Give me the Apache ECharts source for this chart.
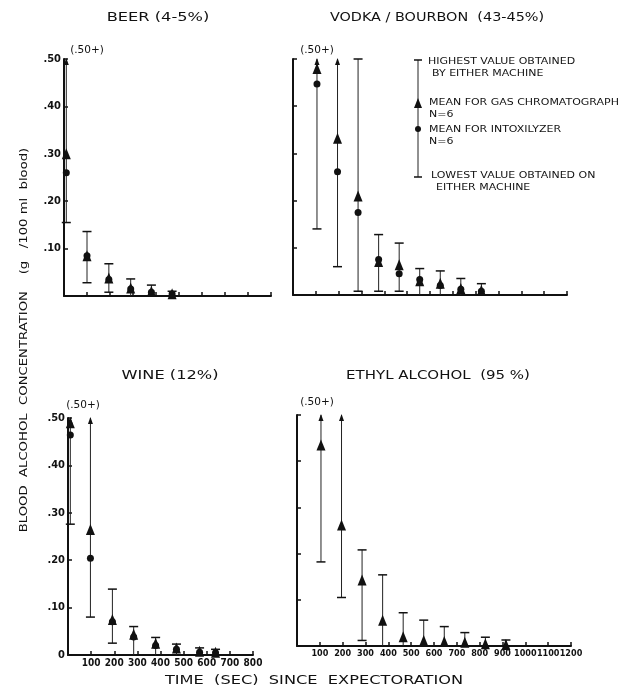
<!DOCTYPE html>
<html>
<head>
<meta charset="utf-8">
<script src="https://cdn.jsdelivr.net/npm/echarts@6/dist/echarts.min.js"></script>
<style>html,body{margin:0;padding:0;background:#fff}#c{width:624px;height:689px}</style>
</head>
<body>
<div id="c"></div>
<script>
// ---------- DATA ----------
const panelTitles = ['BEER (4-5%)', 'VODKA / BOURBON  (43-45%)', 'WINE (12%)', 'ETHYL ALCOHOL  (95 %)'];

const beerTime  = [10, 100, 195, 290, 380, 470];
const beerGC    = [0.30, 0.085, 0.038, 0.017, 0.010, 0.005];
const beerIntox = [0.26, 0.085, 0.035, 0.015, 0.008, 0.004];
const beerHigh  = [0.50, 0.136, 0.068, 0.036, 0.023, 0.010];
const beerLow   = [0.155, 0.028, 0.008, 0, 0, 0];
const beerPlus  = [1, 0, 0, 0, 0, 0];

const vodkaTime  = [105, 195, 285, 375, 465, 555, 645, 735, 825];
const vodkaGC    = [0.48, 0.332, 0.21, 0.071, 0.064, 0.030, 0.025, 0.014, 0.010];
const vodkaIntox = [0.447, 0.261, 0.175, 0.075, 0.045, 0.033, 0.020, 0.012, 0.008];
const vodkaHigh  = [0.50, 0.50, 0.50, 0.128, 0.110, 0.056, 0.051, 0.035, 0.024];
const vodkaLow   = [0.14, 0.06, 0.008, 0.008, 0.008, 0, 0, 0, 0];
const vodkaPlus  = [1, 1, 0, 0, 0, 0, 0, 0, 0];

const wineTime  = [10, 97, 192, 284, 379, 469, 569, 638];
const wineGC    = [0.49, 0.265, 0.075, 0.044, 0.025, 0.015, 0.008, 0.006];
const wineIntox = [0.464, 0.204, 0.070, 0.038, 0.020, 0.012, 0.006, 0.005];
const wineHigh  = [0.50, 0.50, 0.139, 0.060, 0.037, 0.023, 0.015, 0.012];
const wineLow   = [0.276, 0.08, 0.025, 0, 0, 0, 0, 0];
const winePlus  = [1, 1, 0, 0, 0, 0, 0, 0];

const ethylTime = [105, 195, 285, 375, 465, 555, 645, 735, 825, 915];
const ethylGC   = [0.435, 0.262, 0.143, 0.056, 0.020, 0.012, 0.010, 0.008, 0.005, 0.003];
const ethylHigh = [0.50, 0.50, 0.208, 0.154, 0.072, 0.056, 0.042, 0.029, 0.019, 0.013];
const ethylLow  = [0.182, 0.105, 0.012, 0, 0, 0, 0, 0, 0, 0];
const ethylPlus = [1, 1, 0, 0, 0, 0, 0, 0, 0, 0];

const yTicks = [0, 0.1, 0.2, 0.3, 0.4, 0.5];
const xMax = [900, 1200, 800, 1200];

// ---------- CHART ----------
const FONT = '"DejaVu Sans", "Liberation Sans", sans-serif';
const NARROW = '"Liberation Sans Narrow", "DejaVu Sans Condensed", "Liberation Sans", sans-serif';
const INK = '#111';

const grids = [
  {left: 64, top: 59, width: 207, height: 237},
  {left: 293, top: 59, width: 274, height: 236},
  {left: 68, top: 418, width: 185, height: 237},
  {left: 297, top: 415, width: 274, height: 231}
];

function yFmt(showZero) {
  return function (v) {
    const r = Math.round(v * 100);
    if (r === 0) return showZero ? '0' : '';
    return '.' + String(r).padStart(2, '0');
  };
}

const xAxes = grids.map((g, i) => ({
  gridIndex: i, type: 'value', min: 0, max: xMax[i], interval: 100,
  axisLine: {lineStyle: {color: INK, width: 2}},
  axisTick: {show: true, inside: true, length: 4, lineStyle: {color: INK, width: 1.5}},
  axisLabel: {show: i >= 2, color: INK, fontFamily: NARROW, fontWeight: 'bold', fontSize: i === 3 ? 9 : 10, margin: 3,
    interval: 0, hideOverlap: false, showMaxLabel: true,
    formatter: v => v === 0 ? '' : String(v)},
  splitLine: {show: false}
}));

const yAxes = grids.map((g, i) => ({
  gridIndex: i, type: 'value', min: 0, max: 0.5, interval: 0.1,
  axisLine: {show: true, lineStyle: {color: INK, width: 2}},
  axisTick: {show: true, inside: true, length: 4, lineStyle: {color: INK, width: 1.5}},
  axisLabel: {show: i === 0 || i === 2, color: INK, fontFamily: NARROW, fontWeight: 'bold', fontSize: 11, margin: 3,
    formatter: yFmt(i === 2)},
  splitLine: {show: false}
}));

function errRender(params, api) {
  const x = api.value(0), lo = api.value(1), hi = api.value(2), plus = api.value(3);
  const pHi = api.coord([x, hi]);
  const pLo = api.coord([x, lo]);
  const w = 4.5;
  const ch = [{type: 'line', shape: {x1: pHi[0], y1: pHi[1], x2: pLo[0], y2: pLo[1]},
    style: {stroke: '#222', lineWidth: 1}}];
  if (plus) {
    ch.push({type: 'polygon', shape: {points: [[pHi[0], pHi[1] - 1], [pHi[0] - 2.5, pHi[1] + 6], [pHi[0] + 2.5, pHi[1] + 6]]},
      style: {fill: INK}});
  } else {
    ch.push({type: 'line', shape: {x1: pHi[0] - w, y1: pHi[1], x2: pHi[0] + w, y2: pHi[1]},
      style: {stroke: INK, lineWidth: 1.5}});
  }
  if (lo > 0.001) {
    ch.push({type: 'line', shape: {x1: pLo[0] - w, y1: pLo[1], x2: pLo[0] + w, y2: pLo[1]},
      style: {stroke: INK, lineWidth: 1.5}});
  }
  return {type: 'group', children: ch};
}

function zip(...arrs) { return arrs[0].map((_, k) => arrs.map(a => a[k])); }

const panels = [
  {t: beerTime, gc: beerGC, ix: beerIntox, hi: beerHigh, lo: beerLow, plus: beerPlus},
  {t: vodkaTime, gc: vodkaGC, ix: vodkaIntox, hi: vodkaHigh, lo: vodkaLow, plus: vodkaPlus},
  {t: wineTime, gc: wineGC, ix: wineIntox, hi: wineHigh, lo: wineLow, plus: winePlus},
  {t: ethylTime, gc: ethylGC, ix: null, hi: ethylHigh, lo: ethylLow, plus: ethylPlus}
];

const series = [];
panels.forEach((p, i) => {
  series.push({type: 'custom', xAxisIndex: i, yAxisIndex: i, renderItem: errRender,
    data: zip(p.t, p.lo, p.hi, p.plus), z: 2, clip: false, silent: true});
  if (p.ix) {
    series.push({type: 'scatter', xAxisIndex: i, yAxisIndex: i, symbol: 'circle', symbolSize: 7,
      itemStyle: {color: INK, opacity: 1}, data: zip(p.t, p.ix), z: 3, silent: true});
  }
  series.push({type: 'scatter', xAxisIndex: i, yAxisIndex: i, symbol: 'triangle', symbolSize: [9, 11],
    itemStyle: {color: INK, opacity: 1}, data: zip(p.t, p.gc), z: 4, silent: true});
});

function txt(x, y, s, size, sx, align) {
  return {type: 'text', x: x, y: y, scaleX: sx || 1,
    style: {text: s, fill: INK, font: 'normal ' + size + 'px ' + FONT,
      textAlign: align || 'left', textVerticalAlign: 'middle'}};
}

const graphics = [
  txt(158, 18, panelTitles[0], 12, 1.35, 'center'),
  txt(437, 18, panelTitles[1], 12, 1.2, 'center'),
  txt(170, 376, panelTitles[2], 12, 1.35, 'center'),
  txt(438, 376, panelTitles[3], 12, 1.25, 'center'),
  txt(87, 50, '(.50+)', 10, 1.05, 'center'),
  txt(317, 50, '(.50+)', 10, 1.05, 'center'),
  txt(83, 405, '(.50+)', 10, 1.05, 'center'),
  txt(317, 402, '(.50+)', 10, 1.05, 'center'),
  txt(314, 681, 'TIME  (SEC)  SINCE  EXPECTORATION', 12, 1.35, 'center'),
  {type: 'text', x: 24, y: 340, rotation: Math.PI / 2, scaleX: 1.2,
    style: {text: 'BLOOD  ALCOHOL  CONCENTRATION    (g   /100 ml  blood)', fill: INK,
      font: 'normal 11px ' + FONT, textAlign: 'center', textVerticalAlign: 'middle'}},
  // legend key
  {type: 'line', shape: {x1: 418, y1: 60, x2: 418, y2: 177}, style: {stroke: '#222', lineWidth: 1}},
  {type: 'line', shape: {x1: 414, y1: 60, x2: 422, y2: 60}, style: {stroke: INK, lineWidth: 1.5}},
  {type: 'line', shape: {x1: 414, y1: 177, x2: 422, y2: 177}, style: {stroke: INK, lineWidth: 1.5}},
  {type: 'polygon', shape: {points: [[418, 98], [414, 108], [422, 108]]}, style: {fill: INK}},
  {type: 'circle', shape: {cx: 418, cy: 129, r: 3}, style: {fill: INK}},
  txt(428, 62, 'HIGHEST VALUE OBTAINED', 9, 1.22),
  txt(432, 74, 'BY EITHER MACHINE', 9, 1.22),
  txt(429, 103, 'MEAN FOR GAS CHROMATOGRAPH', 9, 1.22),
  txt(429, 115, 'N=6', 9, 1.22),
  txt(429, 130, 'MEAN FOR INTOXILYZER', 9, 1.22),
  txt(429, 142, 'N=6', 9, 1.22),
  txt(431, 176, 'LOWEST VALUE OBTAINED ON', 9, 1.22),
  txt(436, 188, 'EITHER MACHINE', 9, 1.22)
];

const chart = echarts.init(document.getElementById('c'), null, {renderer: 'canvas'});
chart.setOption({
  backgroundColor: '#fff',
  animation: false,
  grid: grids,
  xAxis: xAxes,
  yAxis: yAxes,
  series: series,
  graphic: graphics
});
</script>
</body>
</html>
